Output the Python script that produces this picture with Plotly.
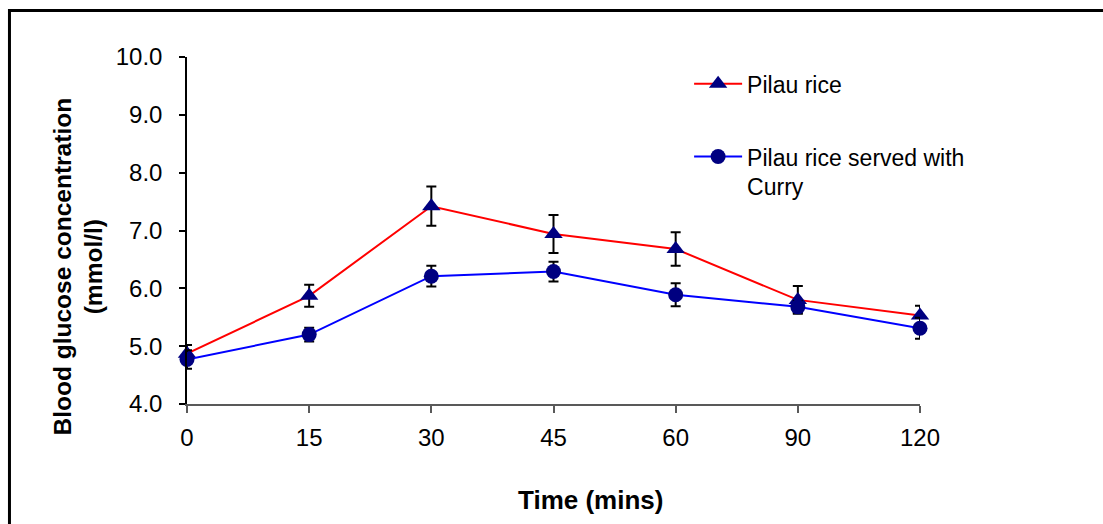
import plotly.graph_objects as go

times = ["0", "15", "30", "45", "60", "90", "120"]
pilau = [4.87, 5.87, 7.42, 6.94, 6.68, 5.80, 5.53]
pilau_err = [0.15, 0.19, 0.34, 0.33, 0.29, 0.24, 0.17]
curry = [4.77, 5.20, 6.21, 6.29, 5.89, 5.68, 5.31]
curry_err = [0.16, 0.12, 0.18, 0.17, 0.20, 0.10, 0.18]
y_ticks = [4.0, 5.0, 6.0, 7.0, 8.0, 9.0, 10.0]

FONT = "Liberation Sans, Arial, sans-serif"

fig = go.Figure()
fig.add_trace(go.Scatter(
    x=times, y=pilau, name="Pilau rice", mode="lines+markers",
    line=dict(color="#FF0000", width=2),
    marker=dict(symbol="triangle-up", size=16, color="#000080"),
    error_y=dict(type="data", array=pilau_err, color="black", thickness=2, width=5),
    legendgroup="a", cliponaxis=False,
))
fig.add_trace(go.Scatter(
    x=times, y=curry, name="Pilau rice served with<br>Curry", mode="lines+markers",
    line=dict(color="#0000FF", width=2),
    marker=dict(symbol="circle", size=15, color="#000080"),
    error_y=dict(type="data", array=curry_err, color="black", thickness=2, width=5),
    legendgroup="b", cliponaxis=False,
))

fig.update_layout(
    width=1103, height=524,
    margin=dict(l=187, r=183, t=57, b=120),
    paper_bgcolor="white", plot_bgcolor="white",
    font=dict(family=FONT, size=23, color="black"),
    showlegend=True,
    legend=dict(x=0.685, y=0.985, xanchor="left", yanchor="top",
                bgcolor="rgba(0,0,0,0)", tracegroupgap=40, valign="top",
                itemwidth=48,
                traceorder="grouped", font=dict(size=23, color="black")),
    xaxis=dict(type="category", range=[0, 6], showgrid=False, zeroline=False,
               showline=True, linecolor="#595959", linewidth=1.5,
               ticks="outside", ticklen=7, tickcolor="#595959", tickwidth=1.5,
               ticklabelstandoff=4, tickfont=dict(size=24, color="black")),
    yaxis=dict(range=[4, 10], tickvals=y_ticks, tickformat=".1f", showgrid=False,
               zeroline=False, showline=True, linecolor="black", linewidth=1.5,
               ticks="outside", ticklen=6, tickcolor="black", tickwidth=1.5,
               ticklabelstandoff=12, tickfont=dict(size=24, color="black")),
    annotations=[
        dict(text="<b>Blood glucose concentration<br>(mmol/l)</b>", xref="paper", yref="paper",
             x=-0.148, y=0.395, xanchor="center", yanchor="middle", textangle=-90,
             showarrow=False, font=dict(size=24.5, color="black")),
        dict(text="<b>Time (mins)</b>", xref="paper", yref="paper",
             x=0.55, y=-0.277, xanchor="center", yanchor="middle",
             showarrow=False, font=dict(size=26, color="black")),
    ],
    shapes=[
        dict(type="rect", xref="paper", yref="paper", x0=-0.2422, x1=1.35,
             y0=-0.6, y1=1.134, line=dict(color="black", width=3), layer="below"),
    ],
)

fig.write_html("out.html")
